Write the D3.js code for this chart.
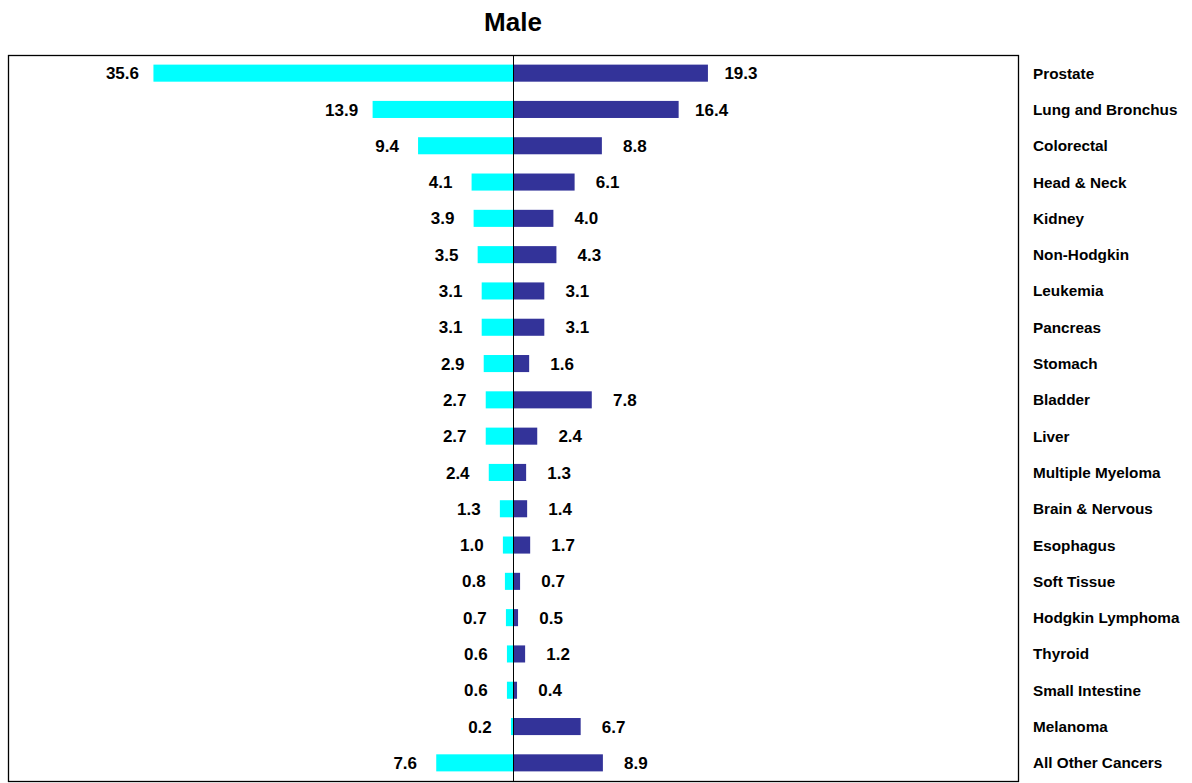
<!DOCTYPE html>
<html><head><meta charset="utf-8">
<script src="https://cdn.jsdelivr.net/npm/d3@7"></script>
<style>
body{margin:0;background:#fff;}
svg{display:block;font-family:Arial,"Liberation Sans",sans-serif;}
</style></head>
<body>
<svg id="chart" width="1192" height="783"></svg>
<script>
const categories = ["Prostate","Lung and Bronchus","Colorectal","Head & Neck","Kidney","Non-Hodgkin","Leukemia","Pancreas","Stomach","Bladder","Liver","Multiple Myeloma","Brain & Nervous","Esophagus","Soft Tissue","Hodgkin Lymphoma","Thyroid","Small Intestine","Melanoma","All Other Cancers"];
const leftValues = [35.6,13.9,9.4,4.1,3.9,3.5,3.1,3.1,2.9,2.7,2.7,2.4,1.3,1.0,0.8,0.7,0.6,0.6,0.2,7.6];
const rightValues = [19.3,16.4,8.8,6.1,4.0,4.3,3.1,3.1,1.6,7.8,2.4,1.3,1.4,1.7,0.7,0.5,1.2,0.4,6.7,8.9];
const title = "Male";

const svg = d3.select("#chart");
const plot = {left:8, right:1018, top:55, bottom:781};

const x = d3.scaleLinear().domain([-50,50]).range([plot.left, plot.right]);
const y = d3.scaleBand().domain(categories).range([plot.top, plot.bottom]).paddingInner(0.53).paddingOuter(0.265);

svg.append("text").attr("x",513).attr("y",31).attr("text-anchor","middle")
  .attr("font-size",26).attr("font-weight","bold").text(title);

svg.append("rect").attr("x",plot.left+0.5).attr("y",plot.top+0.5)
  .attr("width",plot.right-plot.left).attr("height",plot.bottom-plot.top)
  .attr("fill","none").attr("stroke","#000").attr("stroke-width",1.3);

const rows = categories.map((c,i)=>({c, l:leftValues[i], r:rightValues[i]}));

svg.append("g").selectAll("rect").data(rows).join("rect")
  .attr("x",d=>x(-d.l)).attr("y",d=>y(d.c))
  .attr("width",d=>x(0)-x(-d.l)).attr("height",y.bandwidth())
  .attr("fill","#00FFFF");

svg.append("g").selectAll("rect").data(rows).join("rect")
  .attr("x",x(0)).attr("y",d=>y(d.c))
  .attr("width",d=>x(d.r)-x(0)).attr("height",y.bandwidth())
  .attr("fill","#333399");

svg.append("line").attr("x1",x(0)+0.5).attr("x2",x(0)+0.5)
  .attr("y1",plot.top).attr("y2",plot.bottom).attr("stroke","#000").attr("stroke-width",1);

const vl = svg.append("g").attr("font-size",17).attr("font-weight","bold").attr("text-anchor","middle");
vl.selectAll("text.l").data(rows).join("text").attr("class","l")
  .attr("x",d=>x(-d.l)-31).attr("y",d=>y(d.c)+y.bandwidth()/2)
  .attr("dy","0.36em").text(d=>d.l.toFixed(1));
vl.selectAll("text.r").data(rows).join("text").attr("class","r")
  .attr("x",d=>x(d.r)+33).attr("y",d=>y(d.c)+y.bandwidth()/2)
  .attr("dy","0.36em").text(d=>d.r.toFixed(1));

svg.append("g").attr("font-size",15.3).attr("font-weight","bold")
  .selectAll("text").data(categories).join("text")
  .attr("x",1033).attr("y",d=>y(d)+y.bandwidth()/2).attr("dy","0.36em").text(d=>d);
</script>
</body></html>
